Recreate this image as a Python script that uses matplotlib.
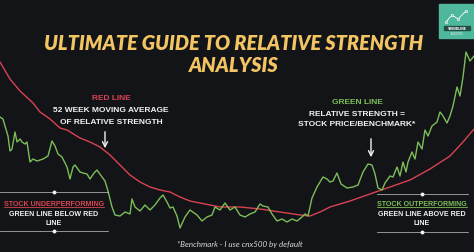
import matplotlib
matplotlib.use("Agg")
import matplotlib.pyplot as plt
from matplotlib.patches import Rectangle

# Relative strength readings (week index, value)
green_week = [0, 3, 5, 8, 10, 12, 15, 17, 20, 22, 25, 27, 30, 33, 37, 43, 48, 52, 55, 58,
              62, 67, 70, 73, 75, 80, 83, 87, 90, 94, 97, 102, 105, 108, 112, 115, 120, 125,
              130, 132, 135, 140, 145, 150, 155, 160, 163, 167, 170, 173, 177, 180, 185, 190,
              197, 202, 207, 212, 215, 220, 225, 230, 235, 240, 245, 250, 255, 260, 263, 268,
              272, 277, 282, 287, 292, 297, 302, 305, 308, 312, 317, 320, 323, 327, 330, 333,
              337, 341, 347, 353, 358, 363, 368, 372, 375, 378, 382, 385, 390, 393, 397, 400,
              403, 406, 408, 412, 415, 418, 422, 425, 428, 432, 437, 440, 443, 447, 450, 453,
              457, 460, 463, 466, 470, 474]
green_rs = [135, 133, 126, 116, 101, 103, 120, 110, 113, 110, 108, 110, 90, 93, 91, 93, 96,
            111, 106, 98, 95, 85, 73, 85, 87, 80, 79, 78, 73, 79, 82, 75, 71, 61, 45, 37, 36,
            40, 38, 53, 45, 41, 47, 42, 47, 54, 57, 50, 44, 45, 36, 24, 35, 42, 37, 31, 35, 37,
            45, 42, 49, 42, 45, 37, 35, 38, 40, 48, 46, 45, 38, 31, 33, 30, 33, 31, 35, 38, 36,
            54, 65, 70, 75, 73, 70, 71, 79, 68, 64, 65, 67, 80, 88, 87, 78, 64, 62, 69, 76, 75,
            85, 76, 90, 80, 90, 100, 93, 110, 103, 122, 116, 126, 130, 140, 136, 129, 136, 146,
            165, 156, 175, 200, 191, 196]

red_week = [0, 10, 20, 33, 40, 50, 60, 67, 80, 90, 100, 110, 120, 130, 140, 150, 160, 170,
            180, 190, 200, 210, 220, 240, 260, 280, 300, 310, 320, 330, 350, 370, 390, 410,
            430, 450, 463, 474]
red_rs = [190, 173, 161, 149, 140, 133, 124, 122, 114, 110, 105, 97, 87, 77, 70, 65, 62, 60,
          55, 51, 49, 47, 45, 45, 43, 40, 37, 36, 40, 45, 51, 58, 65, 72, 83, 96, 110, 123]

BG = "#121418"
RED = "#d94350"
GREEN = "#7dbd57"
GOLD = "#f2c462"
WHITE = "#f2f2f2"

fig = plt.figure(figsize=(4.74, 2.53), dpi=100)
fig.patch.set_facecolor(BG)
ax = fig.add_axes([0, 0, 1, 1])
ax.set_facecolor(BG)
ax.set_xlim(0, 474)
ax.set_ylim(0, 253)
ax.axis("off")

ax.plot(red_week, red_rs, color=RED, lw=1.0, solid_capstyle="round")
ax.plot(green_week, green_rs, color=GREEN, lw=1.0, solid_joinstyle="round")

# title
title_kw = dict(ha="center", va="center", color=GOLD, fontsize=14.3,
                fontweight="heavy", style="italic", family="Lato")
ax.text(234, 210, "ULTIMATE GUIDE TO RELATIVE STRENGTH", **title_kw)
ax.text(234, 188, "ANALYSIS", **title_kw)

lab = dict(ha="center", va="center", fontsize=6.0, fontweight="bold",
           family="Liberation Sans")
small = dict(lab, fontsize=5.1)

# red line callout
ax.text(111, 155, "RED LINE", color=RED, **lab)
ax.text(111, 143, "52 WEEK MOVING AVERAGE", color=WHITE, **lab)
ax.text(111, 131, "OF RELATIVE STRENGTH", color=WHITE, **lab)
ax.annotate("", xy=(105, 101), xytext=(105, 123),
            arrowprops=dict(arrowstyle="->", color=WHITE, lw=1.0, mutation_scale=9))

# green line callout
ax.text(357, 150, "GREEN LINE", color=GREEN, **lab)
ax.text(357, 139, "RELATIVE STRENGTH =", color=WHITE, **lab)
ax.text(357, 128, "STOCK PRICE/BENCHMARK*", color=WHITE, **lab)
ax.annotate("", xy=(371, 92), xytext=(371, 116),
            arrowprops=dict(arrowstyle="->", color=WHITE, lw=1.0, mutation_scale=9))

# bottom boxes
def box(xc, x0, x1, y_top, y_bot, head, head_color, word):
    for yy in (y_top, y_bot):
        ax.plot([x0, x1], [yy, yy], color="#cfcfcf", lw=0.6, alpha=0.8)
        ax.plot(xc, yy, "o", color=WHITE, ms=1.8)
    t = ax.text(xc, 48, head, color=head_color, **small)
    ax.text(xc, 38, "GREEN LINE " + word + " RED", color=WHITE, **small)
    ax.text(xc, 29, "LINE", color=WHITE, **small)
    return t

t1 = box(54, 0, 108, 60, 21, "STOCK UNDERPERFORMING", RED, "BELOW")
t2 = box(422, 377, 468, 58, 20, "STOCK OUTPERFORMING", GREEN, "ABOVE")

# underline the headings
fig.canvas.draw()
inv = ax.transData.inverted()
for t, c in ((t1, RED), (t2, GREEN)):
    bb = t.get_window_extent()
    (xa, ya), (xb, yb) = inv.transform([(bb.x0, bb.y0), (bb.x1, bb.y1)])
    ax.plot([xa, xb], [ya + 0.8, ya + 0.8], color=c, lw=0.6)

ax.text(240, 8, "*Benchmark - I use cnx500 by default", color="#d8d8d8", ha="center",
        va="center", fontsize=5.8, style="italic", family="Lato")

# logo in the corner
ax.add_patch(Rectangle((439, 214), 35, 34, color="#4fb89c", zorder=5))
lx = [446, 452, 458, 466]
ly = [230, 237, 233, 241]
ax.plot(lx, ly, color="white", lw=0.6, zorder=6)
ax.plot(lx, ly, "o", mfc="#4fb89c", mec="white", ms=1.6, mew=0.5, zorder=7)
ax.add_patch(Rectangle((444, 222), 26, 4, color="#244d44", zorder=6))
ax.text(457, 224, "TRENDLINE", color="white", fontsize=2.2, ha="center", va="center",
        fontweight="bold", zorder=7)
ax.text(457, 219.5, "INVESTOR", color="#dff3ee", fontsize=1.8, ha="center", va="center",
        zorder=7)

fig.savefig("out.png", dpi=100, facecolor=BG)
